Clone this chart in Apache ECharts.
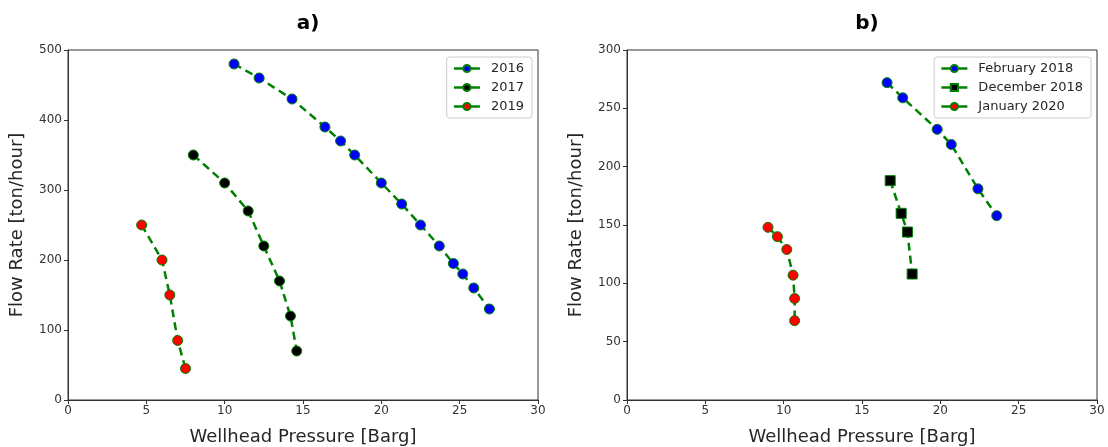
<!DOCTYPE html>
<html>
<head>
<meta charset="utf-8">
<script src="https://cdn.jsdelivr.net/npm/echarts@6/dist/echarts.min.js"></script>
<style>
    html, body { margin: 0; padding: 0; background: #fff; }
    #chart { width: 1108px; height: 447px; }
</style>
</head>
<body>
<div id="chart"></div>
<script>
    // panel a)
    var p2016 = [[10.6, 480], [12.2, 460], [14.3, 430], [16.4, 390], [17.4, 370], [18.3, 350], [20.0, 310],
        [21.3, 280], [22.5, 250], [23.7, 220], [24.6, 195], [25.2, 180], [25.9, 160], [26.9, 130]];
    var p2017 = [[8.0, 350], [10.0, 310], [11.5, 270], [12.5, 220], [13.5, 170], [14.2, 120], [14.6, 70]];
    var p2019 = [[4.7, 250], [6.0, 200], [6.5, 150], [7.0, 85], [7.5, 45]];

    // panel b)
    var feb2018 = [[16.6, 272], [17.6, 259], [19.8, 232], [20.7, 219], [22.4, 181], [23.6, 158]];
    var dec2018 = [[16.8, 188], [17.5, 160], [17.9, 144], [18.2, 108]];
    var jan2020 = [[9.0, 148], [9.6, 140], [10.2, 129], [10.6, 107], [10.7, 87], [10.7, 68]];

    var green = '#008000';
    var font = 'DejaVu Sans';

    var chart = echarts.init(document.getElementById('chart'));

    function xAxisOf(idx) {
        return {
            type: 'value',
            gridIndex: idx,
            min: 0,
            max: 30,
            interval: 5,
            name: 'Wellhead Pressure [Barg]',
            nameLocation: 'middle',
            nameGap: 28,
            nameTextStyle: {fontFamily: font, fontSize: 18, color: '#262626'},
            axisLine: {show: true, onZero: false, lineStyle: {color: '#333', width: 1}},
            axisTick: {show: true, inside: false, length: 4, lineStyle: {color: '#333'}},
            axisLabel: {fontFamily: font, fontSize: 12, color: '#333', margin: 5},
            splitLine: {show: false}
        };
    }

    function yAxisOf(idx, max, interval) {
        return {
            type: 'value',
            gridIndex: idx,
            min: 0,
            max: max,
            interval: interval,
            name: 'Flow Rate [ton/hour]',
            nameLocation: 'middle',
            nameGap: 42,
            nameTextStyle: {fontFamily: font, fontSize: 18, color: '#262626'},
            axisLine: {show: true, onZero: false, lineStyle: {color: '#333', width: 1}},
            axisTick: {show: true, inside: false, length: 4, lineStyle: {color: '#333'}},
            axisLabel: {fontFamily: font, fontSize: 12, color: '#333', margin: 6},
            splitLine: {show: false}
        };
    }

    function line(name, data, idx, fill, symbol) {
        return {
            type: 'line',
            name: name,
            xAxisIndex: idx,
            yAxisIndex: idx,
            data: data,
            symbol: symbol || 'circle',
            symbolSize: 10,
            showAllSymbol: true,
            lineStyle: {color: green, width: 2.5, type: [8, 5]},
            itemStyle: {color: fill, borderColor: green, borderWidth: 1},
            emphasis: {disabled: true},
            z: 3
        };
    }

    var legendBase = {
        orient: 'vertical',
        top: 57,
        itemWidth: 26,
        itemHeight: 9,
        itemGap: 6,
        padding: [5, 8, 5, 6],
        borderColor: '#ccc',
        borderWidth: 1,
        borderRadius: 3,
        backgroundColor: '#fff',
        textStyle: {fontFamily: font, fontSize: 13, color: '#262626', padding: [0, 0, 0, 6]},
        lineStyle: {type: 'solid', width: 2.5}
    };

    chart.setOption({
        backgroundColor: '#fff',
        animation: false,
        title: [
            {text: 'a)', left: 303, top: 9, textAlign: 'center',
                textStyle: {fontFamily: font, fontSize: 20, fontWeight: 'bold', color: '#000'}},
            {text: 'b)', left: 862, top: 9, textAlign: 'center',
                textStyle: {fontFamily: font, fontSize: 20, fontWeight: 'bold', color: '#000'}}
        ],
        grid: [
            {left: 68, right: 570, top: 50, bottom: 47, outerBoundsMode: 'none',
                show: true, borderColor: '#333', borderWidth: 1},
            {left: 627, right: 11, top: 50, bottom: 47, outerBoundsMode: 'none',
                show: true, borderColor: '#333', borderWidth: 1}
        ],
        legend: [
            Object.assign({}, legendBase, {right: 1108 - 532, data: ['2016', '2017', '2019']}),
            Object.assign({}, legendBase, {right: 1108 - 1091, data: ['February 2018', 'December 2018', 'January 2020']})
        ],
        xAxis: [xAxisOf(0), xAxisOf(1)],
        yAxis: [yAxisOf(0, 500, 100), yAxisOf(1, 300, 50)],
        series: [
            line('2016', p2016, 0, '#0000ff'),
            line('2017', p2017, 0, '#000000'),
            line('2019', p2019, 0, '#ff0000'),
            line('February 2018', feb2018, 1, '#0000ff'),
            line('December 2018', dec2018, 1, '#000000', 'rect'),
            line('January 2020', jan2020, 1, '#ff0000')
        ]
    });
</script>
</body>
</html>
